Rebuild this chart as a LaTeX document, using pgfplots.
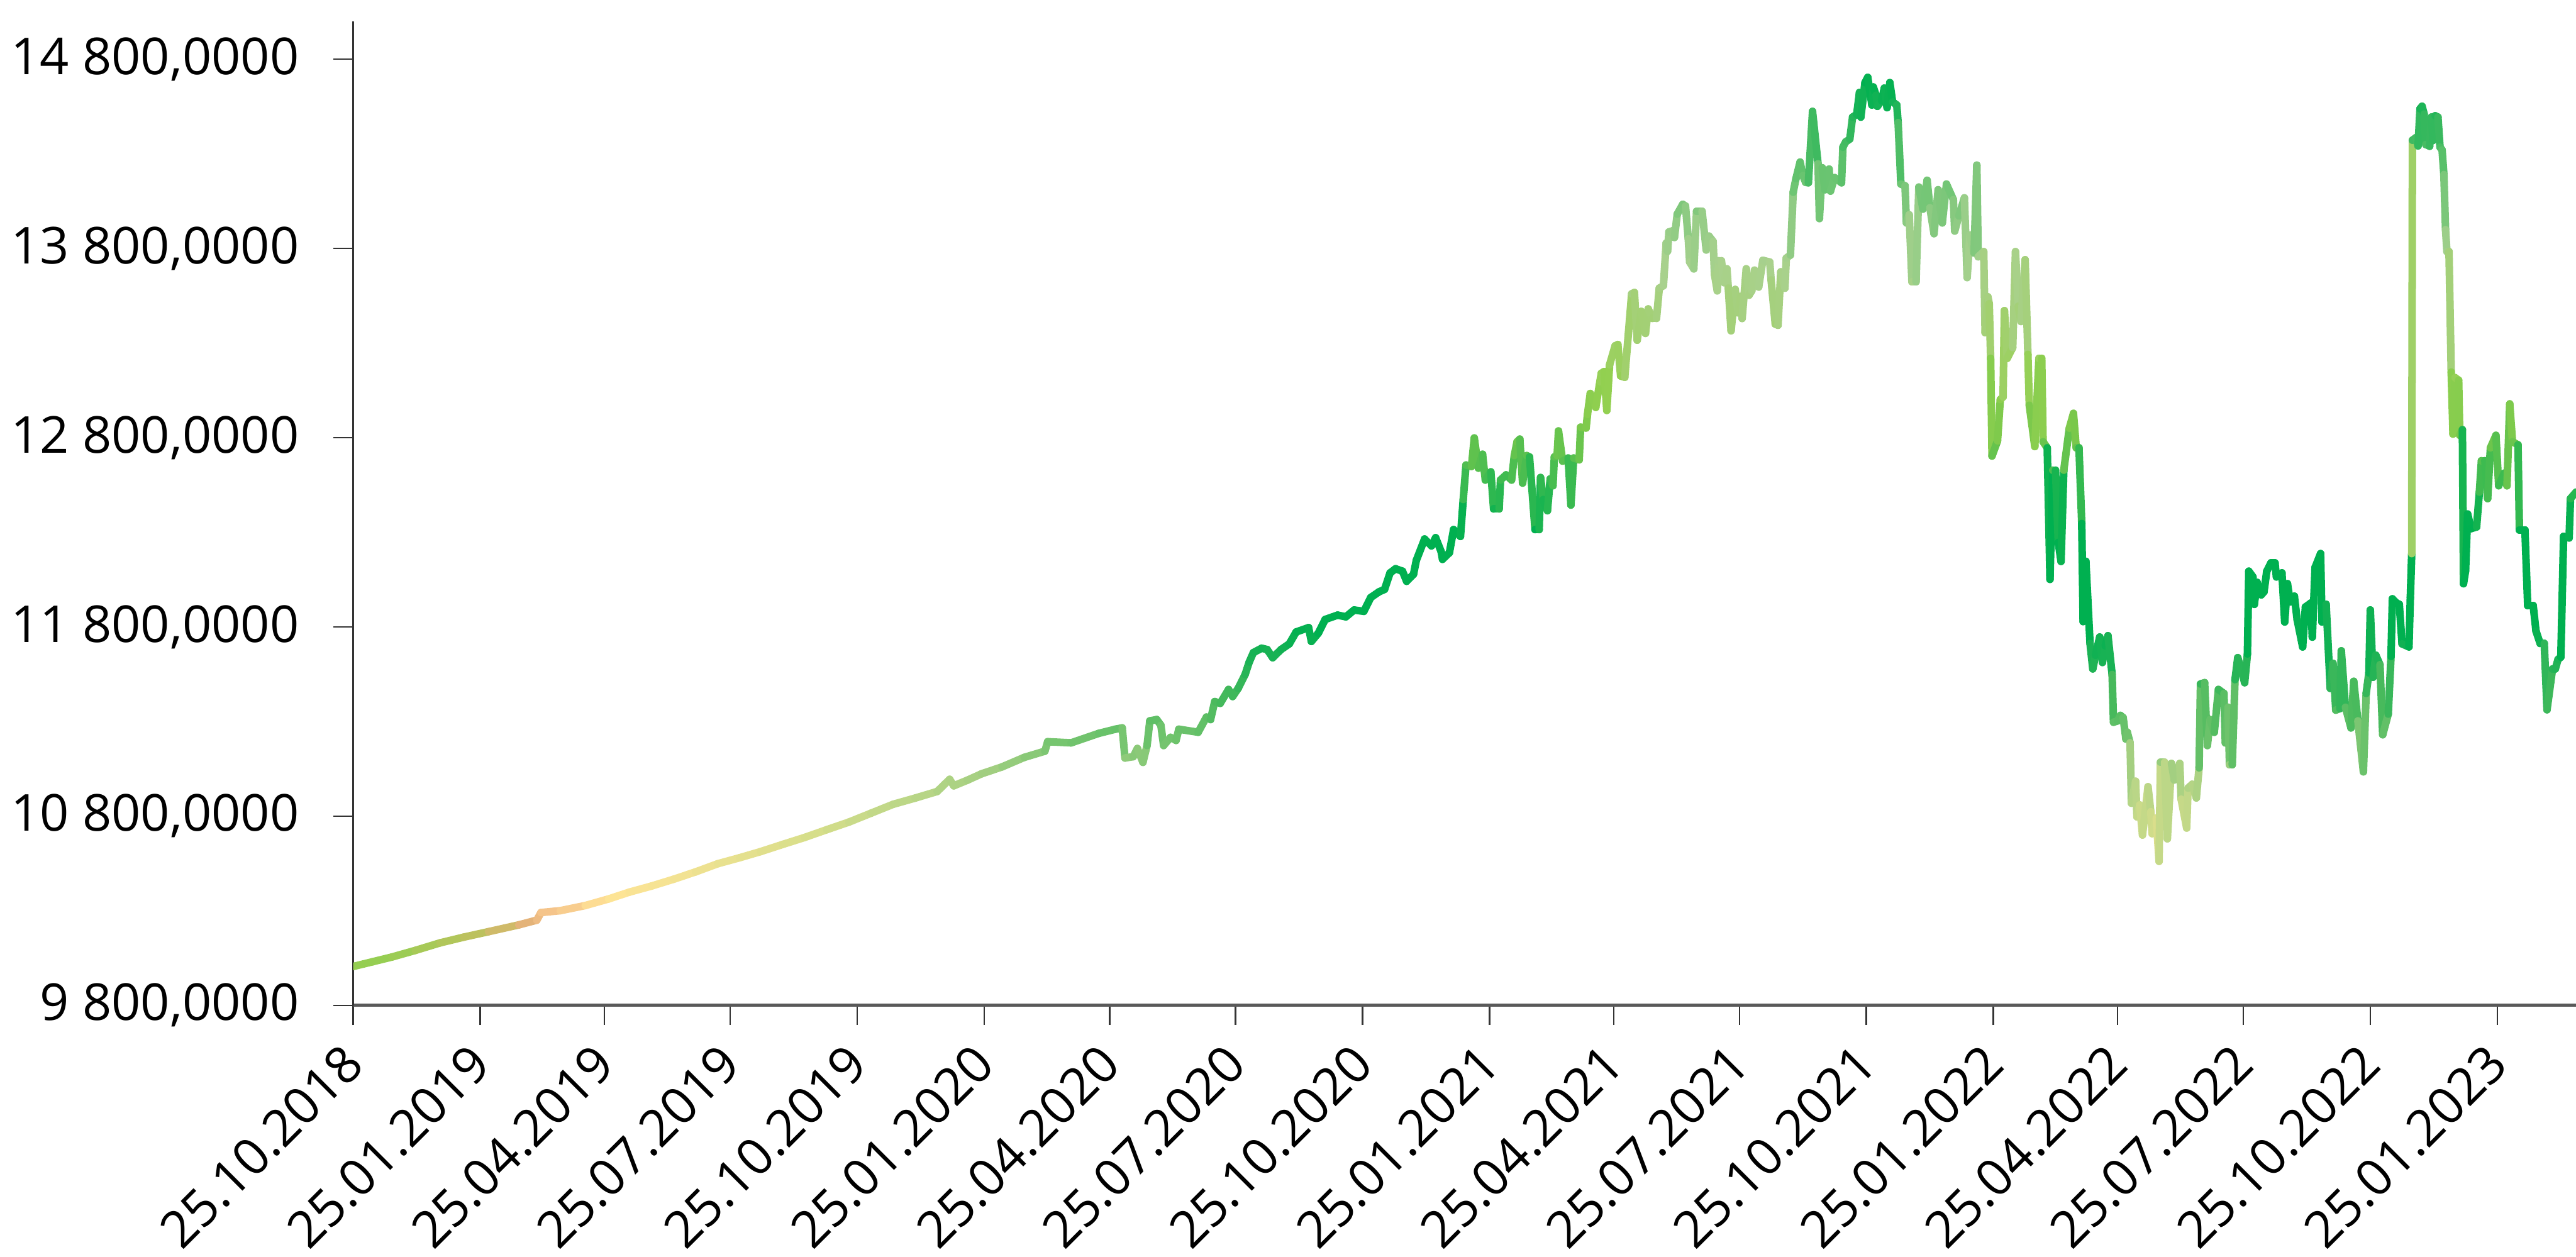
\documentclass[border=0pt]{standalone}
\usepackage{pgfplots}
\pgfplotsset{compat=1.18}
\usepackage{fontspec}
\setmainfont{Open Sans}
\begin{document}
\begin{tikzpicture}
\begin{axis}[
  scale only axis, width=676.5pt, height=299.5pt,
  xmin=0, xmax=1610, ymin=9800, ymax=15000,
  axis lines*=left,
  x axis line style={black!65, line width=0.9pt},
  y axis line style={black!80, line width=0.45pt},
  tick align=outside, major tick length=6pt,
  tick style={black!80, line width=0.45pt},
  xtick={0,92,182,273,365,457,548,639,731,823,913,1004,1096,1188,1278,1369,1461,1553},
  xticklabels={25.10.2018,25.01.2019,25.04.2019,25.07.2019,25.10.2019,25.01.2020,25.04.2020,25.07.2020,25.10.2020,25.01.2021,25.04.2021,25.07.2021,25.10.2021,25.01.2022,25.04.2022,25.07.2022,25.10.2022,25.01.2023},
  ytick={9800,10800,11800,12800,13800,14800},
  yticklabels={{9 800,0000},{10 800,0000},{11 800,0000},{12 800,0000},{13 800,0000},{14 800,0000}},
  tick label style={font=\fontsize{15.5}{18}\selectfont},
  xticklabel style={xshift=2.5pt, yshift=-6.5pt, rotate=45, anchor=east},
  yticklabel style={xshift=-7pt},
  point meta min=9800, point meta max=15000,
  colormap={grad}{
    rgb255(0pt)=(146,208,80)
    rgb255(2.5pt)=(150,206,82)
    rgb255(3.5pt)=(178,198,90)
    rgb255(3.9pt)=(195,190,96)
    rgb255(4.4pt)=(230,178,122)
    rgb255(5pt)=(246,198,140)
    rgb255(5.6pt)=(255,228,150)
    rgb255(7pt)=(240,226,145)
    rgb255(9pt)=(215,222,138)
    rgb255(11pt)=(185,214,135)
    rgb255(12.5pt)=(160,206,128)
    rgb255(14pt)=(115,196,110)
    rgb255(16pt)=(75,186,93)
    rgb255(18.5pt)=(25,178,84)
    rgb255(20pt)=(0,176,80)
    rgb255(25.5pt)=(0,176,80)
    rgb255(28.5pt)=(80,190,80)
    rgb255(30.3pt)=(120,200,75)
    rgb255(32.5pt)=(146,208,80)
    rgb255(35pt)=(160,208,105)
    rgb255(37pt)=(165,208,125)
    rgb255(39pt)=(169,209,142)
    rgb255(41pt)=(150,205,135)
    rgb255(42pt)=(130,200,125)
    rgb255(44pt)=(100,195,110)
    rgb255(46pt)=(60,185,95)
    rgb255(48.5pt)=(0,176,80)
    rgb255(52pt)=(0,176,80)
  },
]
\addplot[mesh, point meta=y, line width=2.3pt, line cap=round, line join=round] table {
0 10005
14 10030
28 10055
45 10090
63 10130
80 10160
98 10189
120 10225
133 10250
136 10290
150 10300
168 10327
185 10362
200 10398
216 10430
232 10466
248 10505
264 10548
280 10580
295 10612
311 10650
327 10687
343 10728
359 10768
375 10815
391 10862
407 10895
423 10930
432 10994
435 10960
445 10990
455 11023
470 11060
486 11110
501 11143
503 11193
520 11187
540 11237
552 11259
557 11266
559 11107
565 11114
568 11157
572 11084
575 11173
577 11303
582 11310
585 11280
587 11173
592 11216
596 11200
598 11259
612 11243
618 11323
621 11310
624 11405
628 11396
634 11469
637 11432
641 11475
646 11548
649 11614
652 11664
658 11687
662 11680
666 11637
672 11680
678 11710
683 11773
692 11796
694 11723
699 11766
704 11839
713 11862
719 11853
725 11889
732 11882
737 11955
743 11985
747 11998
751 12085
755 12107
760 12094
763 12041
768 12078
770 12151
776 12264
781 12228
784 12271
788 12198
789 12157
794 12192
797 12314
802 12278
804 12473
806 12655
810 12648
812 12798
815 12639
818 12712
820 12576
824 12619
826 12423
830 12423
831 12576
835 12603
839 12576
841 12705
843 12778
845 12792
847 12560
850 12705
852 12698
856 12314
859 12314
860 12589
862 12473
865 12414
867 12582
869 12546
870 12698
872 12705
873 12835
876 12676
880 12692
882 12444
884 12692
888 12683
889 12855
893 12851
894 12923
896 13033
900 12960
903 13096
904 13140
906 13149
908 12944
910 13185
914 13285
916 13292
918 13126
921 13119
926 13560
928 13567
930 13315
933 13467
936 13351
938 13480
941 13430
944 13430
946 13590
949 13603
951 13828
952 13785
953 13887
956 13894
957 13858
959 13981
963 14033
965 14024
967 13851
968 13728
971 13692
973 13996
977 13996
980 13792
982 13865
985 13837
986 13662
988 13576
989 13735
991 13735
993 13619
995 13692
996 13590
998 13365
1001 13583
1003 13460
1005 13546
1006 13430
1009 13692
1011 13553
1013 13576
1015 13685
1018 13596
1021 13737
1026 13728
1027 13633
1030 13400
1032 13394
1034 13676
1037 13590
1038 13749
1041 13765
1043 14097
1045 14169
1048 14256
1050 14185
1052 14149
1054 14147
1057 14524
1061 14247
1062 13958
1064 14226
1066 14110
1069 14219
1070 14103
1073 14174
1078 14147
1079 14335
1081 14363
1084 14378
1086 14494
1089 14508
1091 14624
1092 14494
1095 14676
1097 14704
1100 14558
1101 14653
1103 14610
1104 14551
1107 14581
1109 14647
1111 14544
1113 14676
1115 14574
1118 14558
1119 14465
1121 14140
1124 14131
1125 13935
1127 13978
1129 13624
1132 13624
1134 14124
1137 14008
1140 14160
1142 14015
1145 13878
1148 14110
1151 13935
1154 14140
1159 14058
1160 13892
1163 13972
1167 14067
1169 13646
1171 13871
1174 13776
1176 14240
1177 13756
1181 13783
1182 13355
1184 13544
1185 13508
1186 13219
1187 12703
1191 12783
1193 13001
1195 13015
1196 13471
1198 13219
1202 13276
1204 13783
1206 13494
1208 13414
1211 13740
1213 13240
1214 12971
1218 12753
1221 13219
1223 13219
1224 12778
1227 12746
1229 12051
1231 12628
1233 12628
1235 12246
1237 12146
1239 12628
1243 12850
1246 12928
1248 12746
1250 12746
1252 12346
1253 11828
1255 12146
1258 11712
1260 11578
1262 11650
1265 11746
1267 11612
1269 11700
1271 11753
1274 11548
1275 11296
1278 11303
1280 11332
1282 11320
1284 11207
1285 11243
1287 11187
1288 10868
1291 10984
1292 10796
1294 10859
1296 10700
1300 10955
1302 10823
1303 10707
1306 10789
1308 10561
1309 11084
1312 11084
1314 10680
1317 11078
1319 10991
1323 11078
1324 10889
1328 10737
1329 10948
1332 10968
1335 10896
1337 11055
1338 11498
1341 11505
1343 11173
1345 11310
1348 11243
1351 11469
1355 11448
1356 11187
1358 11375
1359 11071
1361 11071
1363 11521
1365 11637
1370 11505
1372 11657
1373 12094
1376 12064
1377 11919
1379 12035
1382 11969
1384 11985
1386 12094
1389 12137
1392 12137
1393 12064
1397 12085
1399 11826
1401 12028
1403 11932
1406 11962
1408 11839
1412 11694
1414 11905
1418 11926
1419 11746
1421 12114
1425 12187
1426 11826
1429 11919
1432 11475
1434 11607
1436 11360
1439 11368
1440 11673
1443 11375
1447 11266
1449 11512
1452 11303
1456 11034
1458 11448
1460 11557
1461 11889
1463 11534
1465 11650
1468 11600
1470 11230
1474 11339
1476 11644
1477 11948
1480 11926
1482 11919
1484 11710
1489 11694
1490 11955
1491 12187
1491.5 14372
1494 14385
1495.6 14342
1497 14538
1498.5 14551
1500 14510
1501.2 14349
1504 14340
1505.3 14494
1506.5 14371
1508 14501
1510 14494
1511.5 14335
1513 14320
1514.3 14190
1515.5 13899
1516.5 13783
1518 13783
1519.6 13146
1520.9 12819
1522.4 13117
1525 13103
1525.8 12812
1527.7 12842
1528.5 12028
1530 12096
1531.5 12396
1534 12319
1538 12328
1540 12512
1541.5 12678
1544 12678
1546 12478
1548 12746
1552 12812
1554 12546
1558 12612
1560 12546
1562 12978
1564 12778
1568 12762
1569 12312
1573 12312
1575 11912
1579 11912
1581 11778
1584 11712
1587 11712
1589 11362
1593 11578
1595 11578
1597 11628
1599 11640
1601 12278
1605 12270
1606 12478
1610 12512
};
\end{axis}
\pgfresetboundingbox
\path[use as bounding box] ([xshift=-107.5pt,yshift=-76.5pt]current axis.south west) rectangle ([yshift=6.5pt]current axis.north east);
\end{tikzpicture}
\end{document}
